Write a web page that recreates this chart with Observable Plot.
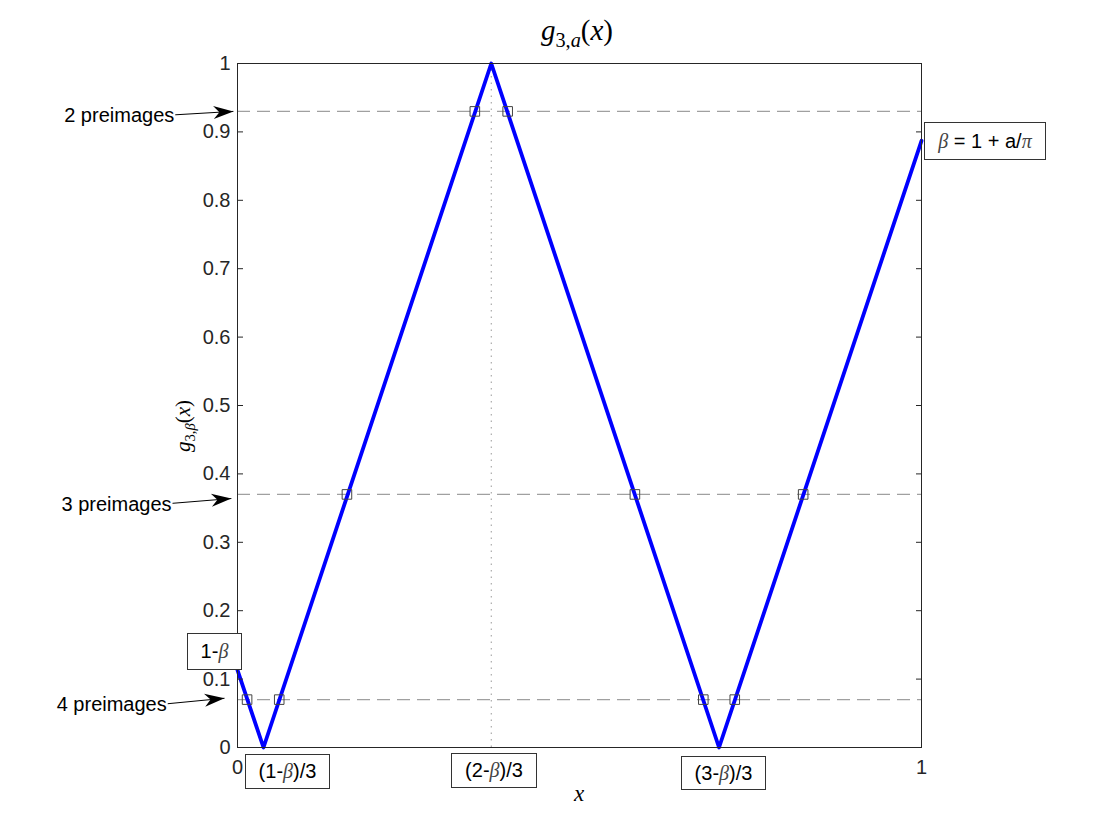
<!DOCTYPE html>
<html><head><meta charset="utf-8">
<script src="https://cdn.jsdelivr.net/npm/d3@7"></script>
<script src="https://cdn.jsdelivr.net/npm/@observablehq/plot@0.6"></script>
<style>
body{margin:0;background:#fff;}
#wrap{position:relative;width:1120px;height:840px;font-family:"Liberation Sans",Arial,sans-serif;color:#000;overflow:hidden;}
#wrap svg{position:absolute;left:0;top:0;}
.box{position:absolute;border:1px solid #333;background:#fff;font-size:20px;display:flex;align-items:center;justify-content:center;box-sizing:border-box;white-space:nowrap;}
.b{font-family:"Liberation Serif",serif;font-style:italic;color:#444;}
.tex{position:absolute;font-family:"Liberation Serif",serif;white-space:nowrap;}
.tex sub{font-size:70%;vertical-align:-0.35em;line-height:0;}
</style></head>
<body><div id="wrap"></div>
<script>
// ---- data ----
const vertexX = [0, 0.038, 0.371, 0.704, 1];
const vertexY = [0.113, 0, 1, 0, 0.887];
const levels = [0.93, 0.37, 0.07];
const levelLabels = ["2 preimages", "3 preimages", "4 preimages"];
const crossX = [0.347, 0.395, 0.160, 0.581, 0.827, 0.014, 0.061, 0.681, 0.727];
const crossY = [0.93, 0.93, 0.37, 0.37, 0.37, 0.07, 0.07, 0.07, 0.07];
const peakX = [0.371];
const yTicks = [0, 0.1, 0.2, 0.3, 0.4, 0.5, 0.6, 0.7, 0.8, 0.9, 1];
const yTickLabels = ["0", "0.1", "0.2", "0.3", "0.4", "0.5", "0.6", "0.7", "0.8", "0.9", "1"];
const xTicks = [0, 1];
const xTickLabels = ["0", "1"];
// annotation arrows (data coordinates of tail and head)
const arrowX1 = [-0.091, -0.095, -0.102];
const arrowY1 = [0.925, 0.357, 0.064];
const arrowX2 = [-0.006, -0.009, -0.019];
const arrowY2 = [0.930, 0.364, 0.072];

const curve = vertexX.map((x, i) => ({x, y: vertexY[i]}));
const crosses = crossX.map((x, i) => ({x, y: crossY[i]}));
const arrows = levelLabels.map((label, i) => ({
  label, x1: arrowX1[i], y1: arrowY1[i], x2: arrowX2[i], y2: arrowY2[i],
  angle: Math.atan2(-(arrowY2[i] - arrowY1[i]), arrowX2[i] - arrowX1[i]) * 180 / Math.PI
}));

const arrowHead = {
  draw(ctx, size) {
    const s = Math.sqrt(size / Math.PI);
    const L = 2 * s, W = 1.3 * s;
    ctx.moveTo(0, 0);
    ctx.lineTo(-L, -W / 2);
    ctx.lineTo(-0.7 * L, 0);
    ctx.lineTo(-L, W / 2);
    ctx.closePath();
  }
};

const ink = "#262626";
const chart = Plot.plot({
  width: 1120, height: 840,
  marginLeft: 237, marginRight: 199, marginTop: 63, marginBottom: 93,
  style: {fontFamily: "'Liberation Sans', Arial, sans-serif", fontSize: "20px", background: "transparent", color: ink},
  x: {domain: [0, 1]},
  y: {domain: [0, 1]},
  marks: [
    Plot.ruleY(levels, {stroke: "#a0a0a0", strokeWidth: 1.2, strokeDasharray: "13,7"}),
    Plot.ruleX(peakX, {y1: 0, y2: 1, stroke: "#999", strokeWidth: 1, strokeDasharray: "1.5,5"}),
    Plot.line(curve, {x: "x", y: "y", stroke: "#0000ff", strokeWidth: 3.8}),
    Plot.dot(crosses, {x: "x", y: "y", symbol: "square", r: 5.4, stroke: "#444", strokeWidth: 1, fill: "none"}),
    Plot.frame({stroke: ink, strokeWidth: 1}),
    Plot.axisY({ticks: yTicks, tickFormat: (d, i) => yTickLabels[i], tickSize: 0, tickPadding: 7, fontSize: 20, label: null, color: ink}),
    Plot.axisY({ticks: yTicks, tickFormat: () => "", tickSize: 6, dx: 6, label: null, stroke: ink}),
    Plot.axisY({anchor: "right", ticks: yTicks, tickFormat: () => "", tickSize: 6, dx: -6, label: null, stroke: ink}),
    Plot.axisX({ticks: xTicks, tickFormat: (d, i) => xTickLabels[i], tickSize: 0, tickPadding: 12, fontSize: 20, label: null, color: ink}),
    Plot.link(arrows, {x1: "x1", y1: "y1", x2: "x2", y2: "y2", stroke: "black", strokeWidth: 1}),
    Plot.dot(arrows, {x: "x2", y: "y2", symbol: arrowHead, r: 10, rotate: "angle", fill: "black", stroke: "none"}),
    Plot.text(arrows, {x: "x1", y: "y1", text: "label", textAnchor: "end", dx: -1, dy: 1, fontSize: 20, fill: "black"})
  ]
});
const wrap = document.getElementById("wrap");
wrap.appendChild(chart);

function add(html) { wrap.insertAdjacentHTML("beforeend", html); }
add(`<div class="tex" style="left:577px;top:14px;transform:translateX(-50%);font-size:29px;"><i>g</i><sub>3,<i>a</i></sub>(<i>x</i>)</div>`);
add(`<div class="tex" style="left:183px;top:426px;transform:translate(-50%,-50%) rotate(-90deg);font-size:21px;"><i>g</i><sub>3,<i>β</i></sub>(<i>x</i>)</div>`);
add(`<div class="tex" style="left:579px;top:781px;transform:translateX(-50%);font-size:23px;"><i>x</i></div>`);
add(`<div class="box" style="left:187px;top:633px;width:55px;height:37px;">1-<span class="b">β</span></div>`);
add(`<div class="box" style="left:924px;top:122px;width:122px;height:38px;"><span class="b">β</span>&nbsp;= 1 + a/<span class="b">π</span></div>`);
add(`<div class="box" style="left:245px;top:754px;width:85px;height:35px;">(1-<span class="b">β</span>)/3</div>`);
add(`<div class="box" style="left:451px;top:753px;width:86px;height:35px;">(2-<span class="b">β</span>)/3</div>`);
add(`<div class="box" style="left:681px;top:756px;width:85px;height:34px;">(3-<span class="b">β</span>)/3</div>`);
</script>
</body></html>
